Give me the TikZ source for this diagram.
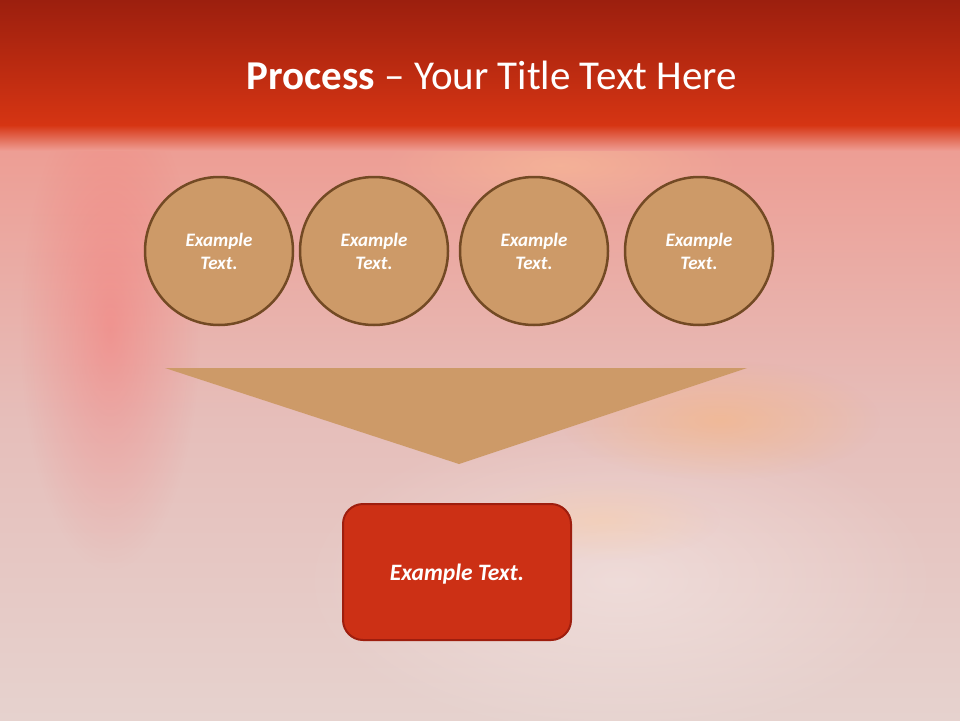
\documentclass[tikz,border=0pt]{standalone}
\usepackage{fontspec}
\setmainfont{Carlito}
\usetikzlibrary{fadings}
\definecolor{hdrtop}{HTML}{9C1F0E}
\definecolor{hdrbot}{HTML}{D63513}
\definecolor{bgtop}{HTML}{EE9A90}
\definecolor{bgmid}{HTML}{E6BEBA}
\definecolor{bgbot}{HTML}{E6D2CE}
\definecolor{tan}{HTML}{CD9A68}
\definecolor{tanedge}{HTML}{734A24}
\definecolor{boxred}{HTML}{CC3015}
\definecolor{boxedge}{HTML}{9E1E0E}
\tikzfading[name=softglow, inner color=transparent!0, outer color=transparent!100]
\tikzset{
  stepcircle/.style={circle, draw=tanedge, line width=2.5pt, fill=tan,
    minimum size=148pt, inner sep=0pt, text=white, align=center,
    font=\fontsize{19}{23}\selectfont\bfseries\itshape},
  resultbox/.style={draw=boxedge, line width=2pt, fill=boxred, rounded corners=20pt,
    minimum width=228pt, minimum height=136pt, text=white, text depth=0pt,
    font=\fontsize{23.5}{27}\selectfont\bfseries\itshape},
  glow/.style={path fading=softglow}
}
\begin{document}
\begin{tikzpicture}[x=1pt,y=-1pt]
\useasboundingbox (0,0) rectangle (960,720);
% background
\shade[top color=bgtop, bottom color=bgbot, middle color=bgmid] (0,120) rectangle (960,720);
\fill[white, opacity=0.35, glow] (620,580) ellipse (320 and 160);
\fill[red!70!white, opacity=0.3, glow] (110,330) ellipse (90 and 240);
\fill[orange!60!white, opacity=0.4, glow] (720,420) ellipse (160 and 60);
\fill[orange!40!white, opacity=0.35, glow] (600,520) ellipse (120 and 40);
\fill[orange!40!white, opacity=0.4, glow] (560,165) ellipse (180 and 50);
% header
\shade[top color=hdrtop, bottom color=hdrbot] (0,0) rectangle (960,126);
\shade[top color=hdrbot, bottom color=bgtop] (0,125) rectangle (960,150);
\node[text=white, font=\fontsize{41}{45}\selectfont] (title) at (492,75)
  {\textbf{Process} – Your Title Text Here};
% circles
\node[stepcircle] (c1) at (219,251) {Example\\Text.};
\node[stepcircle] (c2) at (374,251) {Example\\Text.};
\node[stepcircle] (c3) at (534,251) {Example\\Text.};
\node[stepcircle] (c4) at (699,251) {Example\\Text.};
% funnel triangle
\coordinate (tl) at (165,368);
\coordinate (tr) at (747,368);
\coordinate (tb) at (459,464);
\fill[tan] (tl) -- (tr) -- (tb) -- cycle;
% result box
\node[resultbox] (res) at (457,572) {Example Text.};
\end{tikzpicture}
\end{document}
